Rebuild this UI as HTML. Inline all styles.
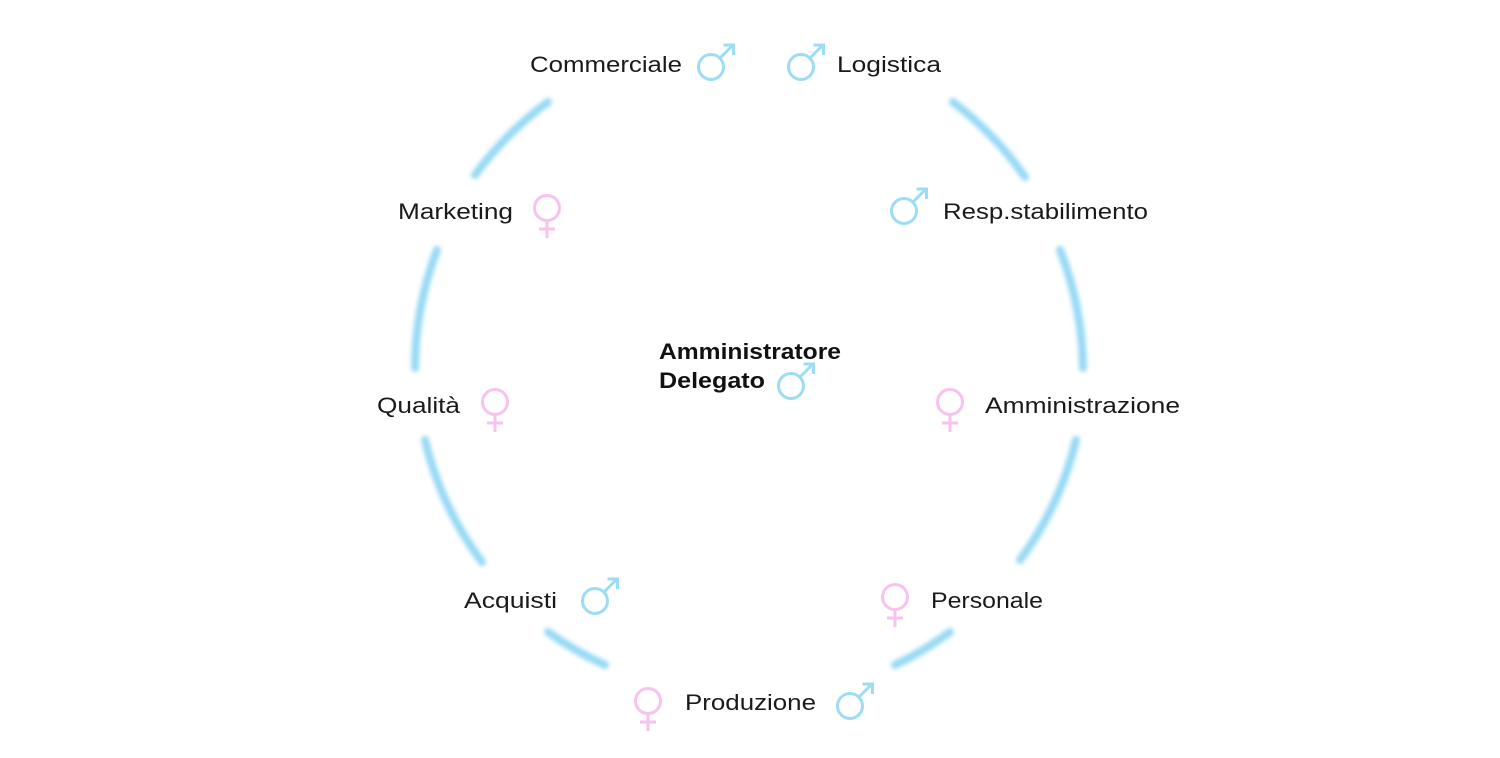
<!DOCTYPE html>
<html><head><meta charset="utf-8"><style>
html,body{margin:0;padding:0;background:#fff;width:1500px;height:758px;overflow:hidden}
svg{display:block}
text{font-family:"Liberation Sans",sans-serif;font-size:22px;fill:#1a1a1a}
</style></head><body>
<svg width="1500" height="758" viewBox="0 0 1500 758" xmlns="http://www.w3.org/2000/svg">
<defs>
<filter id="b" x="-20%" y="-20%" width="140%" height="140%"><feGaussianBlur stdDeviation="2.2"/></filter>
<g id="m" fill="none" stroke="#9ddcf5" stroke-width="3">
<circle cx="0" cy="0" r="12.5"/>
<line x1="9" y1="-9" x2="22" y2="-22"/>
<polyline points="14,-22 22.5,-22 22.5,-13.5" stroke-linecap="square"/>
</g>
<g id="f" fill="none" stroke="#f8c2ef" stroke-width="3">
<circle cx="0" cy="0" r="12.5"/>
<line x1="0" y1="12.5" x2="0" y2="30"/>
<line x1="-8" y1="21" x2="8" y2="21"/>
</g>
</defs>
<g fill="none" stroke="#97d9f5" stroke-width="8" stroke-linecap="round" filter="url(#b)">
<path d="M548,102 A334,334 0 0 0 475,175"/>
<path d="M437,250 A334,334 0 0 0 415,368"/>
<path d="M425,440 A334,334 0 0 0 482,562"/>
<path d="M548,632 A334,334 0 0 0 605,665"/>
<path d="M895,665 A334,334 0 0 0 950,632"/>
<path d="M1020,560 A334,334 0 0 0 1076,440"/>
<path d="M1083,368 A334,334 0 0 0 1060,250"/>
<path d="M1025,177 A334,334 0 0 0 953,102"/>
</g>
<use href="#m" x="711" y="67"/>
<use href="#m" x="801" y="67"/>
<use href="#m" x="904" y="211"/>
<use href="#m" x="791" y="386"/>
<use href="#m" x="595" y="601"/>
<use href="#m" x="850" y="706"/>
<use href="#f" x="547" y="208"/>
<use href="#f" x="495" y="402"/>
<use href="#f" x="950" y="402"/>
<use href="#f" x="895" y="597"/>
<use href="#f" x="648" y="701"/>
<text x="530" y="72" textLength="152" lengthAdjust="spacingAndGlyphs">Commerciale</text>
<text x="837" y="72" textLength="104" lengthAdjust="spacingAndGlyphs">Logistica</text>
<text x="398" y="219" textLength="115" lengthAdjust="spacingAndGlyphs">Marketing</text>
<text x="943" y="219" textLength="205" lengthAdjust="spacingAndGlyphs">Resp.stabilimento</text>
<text x="377" y="413" textLength="83" lengthAdjust="spacingAndGlyphs">Qualità</text>
<text x="985" y="413" textLength="195" lengthAdjust="spacingAndGlyphs">Amministrazione</text>
<text x="464" y="608" textLength="93" lengthAdjust="spacingAndGlyphs">Acquisti</text>
<text x="931" y="608" textLength="112" lengthAdjust="spacingAndGlyphs">Personale</text>
<text x="685" y="710" textLength="131" lengthAdjust="spacingAndGlyphs">Produzione</text>
<text x="659" y="359" font-weight="bold" style="fill:#111" textLength="182" lengthAdjust="spacingAndGlyphs">Amministratore</text>
<text x="659" y="388" font-weight="bold" style="fill:#111" textLength="106" lengthAdjust="spacingAndGlyphs">Delegato</text>
</svg>
</body></html>
